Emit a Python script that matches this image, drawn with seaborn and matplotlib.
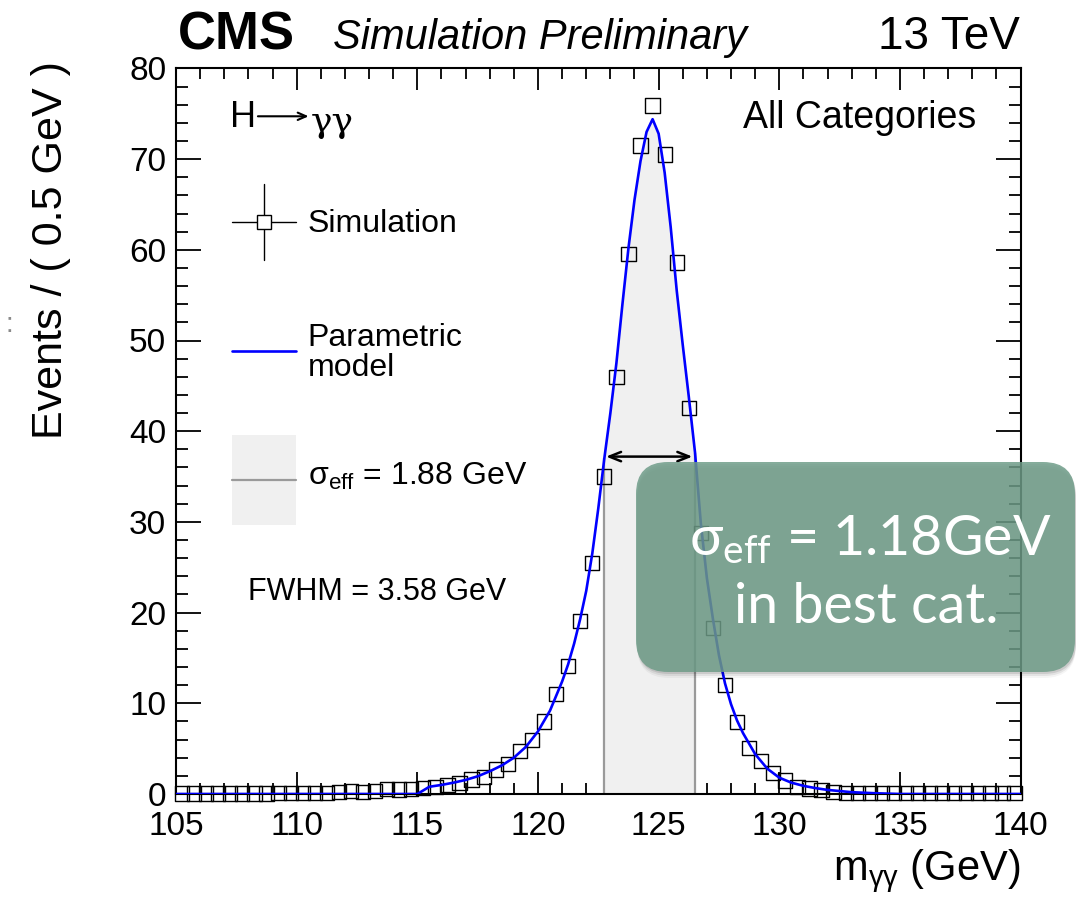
import numpy as np
import matplotlib
matplotlib.use("Agg")
import matplotlib.pyplot as plt
import seaborn as sns
from matplotlib.patches import FancyBboxPatch, Rectangle
from matplotlib.ticker import MultipleLocator

# ---------------- data ----------------
# simulated diphoton mass spectrum, 0.5 GeV bins from 105 to 140 GeV
bin_width = 0.5
bin_centers = np.arange(105.25, 140.0, bin_width)
events = [
    0.05, 0.05, 0.05, 0.05, 0.05, 0.05, 0.05, 0.05, 0.1, 0.1, 0.1, 0.1, 0.15, 0.2,
    0.3, 0.25, 0.3, 0.55, 0.5, 0.55,
    0.7, 0.8, 1.0, 1.25, 1.6, 1.9, 2.7, 3.3, 4.7, 5.95,
    8.0, 11.0, 14.1, 19.1, 25.5, 35.0, 46.0, 59.5, 71.5, 75.9,
    70.5, 58.6, 42.6, 28.8, 18.3, 12.05, 7.9, 5.1, 3.6, 2.3,
    1.5, 0.8, 0.6, 0.4, 0.2, 0.15, 0.15, 0.1, 0.1, 0.1,
    0.1, 0.1, 0.1, 0.1, 0.1, 0.1, 0.1, 0.1, 0.1, 0.1,
]

# parametric signal model, sampled along the mass axis
model_mass = [
    105.0, 115.0, 115.5, 116.0, 116.5, 117.0, 117.5, 118.0, 118.5, 119.0, 119.5,
    120.0, 120.5, 121.0, 121.25, 121.5, 121.75, 122.0, 122.25, 122.5, 122.75,
    123.0, 123.25, 123.5, 123.75, 124.0, 124.25, 124.5, 124.75, 125.0, 125.25,
    125.5, 125.75, 126.0, 126.25, 126.51, 126.75, 127.0, 127.25, 127.5, 127.75,
    128.0, 128.25, 128.5, 129.0, 129.5, 130.0, 130.5, 131.0, 131.5, 132.0,
    133.0, 134.0, 135.0, 140.0,
]
model_events = [
    0.0, 0.0, 0.8, 1.0, 1.25, 1.55, 1.95, 2.5, 3.15, 4.0, 5.2,
    6.9, 9.2, 12.4, 14.3, 16.6, 19.3, 22.4, 26.5, 31.5, 37.0,
    42.0, 47.5, 54.0, 60.2, 65.5, 69.8, 73.0, 74.4, 72.8, 68.5,
    62.5, 55.5, 49.5, 43.8, 37.6, 29.8, 23.8, 19.3, 15.3, 12.2,
    9.9, 8.1, 6.7, 4.4, 2.8, 1.8, 1.25, 0.9, 0.65, 0.45,
    0.2, 0.08, 0.0, 0.0,
]

sigma_eff = 1.88          # GeV
sigma_eff_low = 122.75    # lower edge of the smallest interval holding 68.3%
fwhm = 3.58               # GeV
fwhm_low = 122.82
peak_value = 74.4

x_ticks = [105, 110, 115, 120, 125, 130, 135, 140]
y_ticks = [0, 10, 20, 30, 40, 50, 60, 70, 80]

# ---------------- style ----------------
sns.set_theme(style="ticks")
plt.rcParams["font.family"] = ["Liberation Sans", "DejaVu Sans"]
plt.rcParams["mathtext.fontset"] = "custom"
plt.rcParams["mathtext.rm"] = "Liberation Sans"
plt.rcParams["mathtext.it"] = "Liberation Sans:italic"
plt.rcParams["axes.linewidth"] = 1.5
plt.rcParams["axes.edgecolor"] = "black"
plt.rcParams["text.color"] = "black"
plt.rcParams["xtick.color"] = "black"
plt.rcParams["ytick.color"] = "black"
plt.rcParams["xtick.labelcolor"] = "black"
plt.rcParams["ytick.labelcolor"] = "black"

W, H = 1076, 898
fig = plt.figure(figsize=(W / 100, H / 100), dpi=100)
fig.patch.set_facecolor("white")
ax = fig.add_axes([176 / W, 104 / H, 844.6 / W, 725.6 / H])
ax.set_facecolor("white")

mx = np.array(model_mass)
my = np.array(model_events)
band_high = sigma_eff_low + 2 * sigma_eff

# sigma_eff band under the model curve
in_band = (mx >= sigma_eff_low - 1e-9) & (mx <= band_high + 1e-9)
ax.fill_between(mx[in_band], my[in_band], 0, color="#f0f0f0", lw=0, zorder=1)
edge_vals = [my[np.argmin(np.abs(mx - sigma_eff_low))], my[np.argmin(np.abs(mx - band_high))]]
ax.vlines([sigma_eff_low, band_high], 0, edge_vals, colors="#9a9a9a", lw=1.6, zorder=2)

# simulation points
sns.scatterplot(x=bin_centers, y=events, marker="s", s=105, facecolor="none",
                edgecolor="black", linewidth=1.0, clip_on=False, zorder=3, ax=ax)

# model curve
sns.lineplot(x=mx, y=my, color="#0000ff", lw=1.9, sort=False, zorder=4, ax=ax)

# FWHM arrow
ax.annotate("", xy=(fwhm_low + fwhm, peak_value / 2), xytext=(fwhm_low, peak_value / 2),
            arrowprops=dict(arrowstyle="<->,head_length=0.7,head_width=0.28",
                            lw=1.8, color="black", shrinkA=0, shrinkB=0), zorder=5)

# axes
ax.set_xlim(105, 140)
ax.set_ylim(0, 80)
ax.set_xticks(x_ticks)
ax.set_yticks(y_ticks)
ax.xaxis.set_minor_locator(MultipleLocator(1))
ax.yaxis.set_minor_locator(MultipleLocator(2))
ax.tick_params(which="both", direction="in", top=True, right=True, width=1.3,
               colors="black", labelsize=24)
ax.tick_params(axis="x", which="major", length=16, pad=12)
ax.tick_params(axis="x", which="minor", length=8)
ax.tick_params(axis="y", which="major", length=18, pad=7)
ax.tick_params(axis="y", which="minor", length=8.5)
ax.set_xlabel("")
ax.set_ylabel("")
for s in ax.spines.values():
    s.set_linewidth(1.5)
    s.set_color("black")

# legend-style annotations inside the frame
T = ax.transAxes
ax.text(0.064, 0.932, "H", transform=T, fontsize=26, ha="left", va="center")
ax.annotate("", xy=(0.157, 0.934), xytext=(0.097, 0.934), xycoords=T, textcoords=T,
            arrowprops=dict(arrowstyle="->,head_length=0.5,head_width=0.22",
                            lw=1.5, color="black", shrinkA=0, shrinkB=0))
ax.text(0.159, 0.926, "γγ", transform=T, fontsize=26, ha="left", va="center",
        family=["DejaVu Serif", "DejaVu Sans"])
ax.text(0.948, 0.932, "All Categories", transform=T, fontsize=27, ha="right", va="center")

ax.plot([0.0663, 0.142], [0.788, 0.788], transform=T, color="black", lw=1.0, clip_on=False)
ax.plot([0.104, 0.104], [0.736, 0.841], transform=T, color="black", lw=1.0, clip_on=False)
ax.plot([0.104], [0.788], transform=T, marker="s", ms=9.5, mfc="white", mec="black", mew=1.0)
ax.text(0.156, 0.786, "Simulation", transform=T, fontsize=23, ha="left", va="center")

ax.plot([0.0663, 0.142], [0.6105, 0.6105], transform=T, color="#0000ff", lw=1.9)
ax.text(0.156, 0.608, "Parametric\nmodel", transform=T, fontsize=23, ha="left",
        va="center", linespacing=1.0)

ax.add_patch(Rectangle((0.0663, 0.3707), 0.0757, 0.1241, transform=T,
                       facecolor="#f0f0f0", edgecolor="none", zorder=1))
ax.plot([0.0663, 0.142], [0.4327, 0.4327], transform=T, color="#9a9a9a", lw=1.6)
ax.text(0.156, 0.438, "σ$_{\\mathregular{eff}}$ = 1.88 GeV", transform=T, fontsize=23,
        ha="left", va="center")

ax.text(0.0852, 0.278, "FWHM = 3.58 GeV", transform=T, fontsize=22, ha="left", va="center")

# header
fig.text(178 / W, 1 - 49 / H, "CMS", fontsize=38, fontweight="bold", ha="left", va="baseline")
fig.text(333 / W, 1 - 49 / H, "Simulation Preliminary", fontsize=30, style="italic",
         ha="left", va="baseline")
fig.text(1020 / W, 1 - 49 / H, "13 TeV", fontsize=33, ha="right", va="baseline")

# axis titles
fig.text(1020 / W, 1 - 880 / H, "m$_{\\mathregular{γγ}}$ (GeV)", fontsize=30,
         ha="right", va="baseline")
fig.text(51 / W, 1 - 250 / H, "Events / ( 0.5 GeV )", fontsize=31, rotation=90,
         ha="center", va="center")
fig.text(9 / W, 1 - 325 / H, ":", fontsize=20, color="#8a8a8a", ha="center", va="center")

# callout box
I = fig.dpi_scale_trans
bx, by, bw, bh = 6.36, 2.26, 4.39, 2.10
for k, a in enumerate([0.10, 0.07, 0.04]):
    d = 0.02 * (k + 1)
    fig.patches.append(FancyBboxPatch((bx + 0.01, by - d), bw, bh,
                                      boxstyle="round,pad=0,rounding_size=0.32",
                                      transform=I, facecolor="black", edgecolor="none",
                                      alpha=a, zorder=9))
fig.patches.append(FancyBboxPatch((bx, by), bw, bh, boxstyle="round,pad=0,rounding_size=0.32",
                                  transform=I, facecolor="#6e9c88", edgecolor="none",
                                  alpha=0.84, zorder=10))
fig.text(8.70, 3.43, "σ$_{\\mathregular{eff}}$ = 1.18GeV", transform=I, fontsize=40,
         family=["Lato", "DejaVu Sans"], color="white", ha="center", va="baseline", zorder=11)
fig.text(8.66, 2.75, "in best cat.", transform=I, fontsize=40,
         family=["Lato", "DejaVu Sans"], color="white", ha="center", va="baseline", zorder=11)

fig.savefig("out.png", dpi=100, facecolor="white")
